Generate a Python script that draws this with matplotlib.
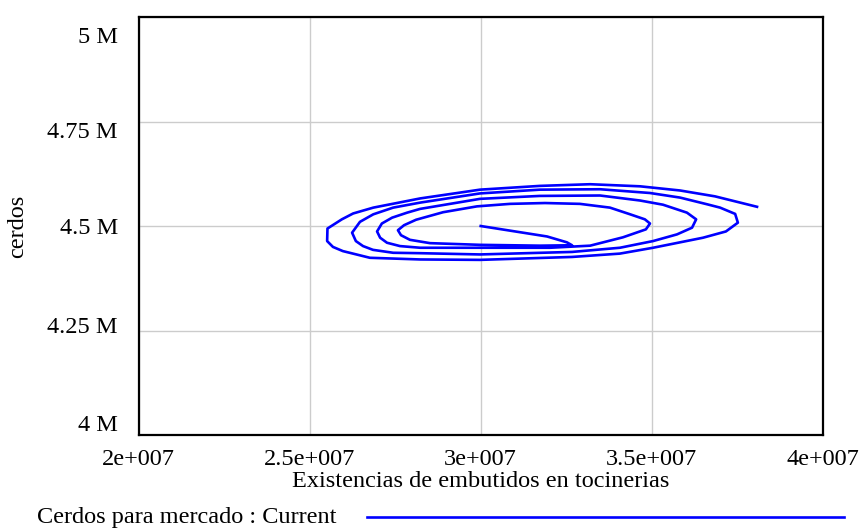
import numpy as np
import matplotlib
matplotlib.use("Agg")
import matplotlib.pyplot as plt
from matplotlib.lines import Line2D
from matplotlib.transforms import ScaledTranslation

plt.rcParams['font.family'] = ['Liberation Serif', 'DejaVu Serif']

# phase trajectory, values in millions
embutidos = [30.00, 31.94, 32.52, 32.67,
             31.73, 29.98, 28.52, 27.93, 27.67, 27.58,
             27.76, 28.11, 28.90, 29.89, 30.86, 31.88, 32.90, 33.78, 34.37, 34.80, 34.95,
             34.83, 34.16, 33.20, 32.03, 29.98, 28.23, 27.64, 27.26, 27.06, 26.97,
             27.11, 27.41, 27.85, 28.23, 29.98, 31.73, 33.49, 34.66, 35.33, 36.03, 36.30,
             36.18, 35.74, 35.04, 34.07, 32.67, 29.98, 28.23, 27.44, 26.85, 26.56, 26.35, 26.24,
             26.47, 26.86, 27.44, 28.23, 29.98, 31.73, 33.49, 34.95, 35.83, 36.62, 37.00, 37.44, 37.52,
             37.17, 36.50, 35.04, 34.07, 32.67, 29.98, 28.23, 26.76, 25.97, 25.68, 25.51, 25.52,
             25.94, 26.27, 26.86, 28.23, 29.98, 31.73, 33.20, 34.66, 35.83, 36.85, 38.08]
cerdos = [4.500, 4.475, 4.461, 4.454,
          4.453, 4.455, 4.459, 4.467, 4.478, 4.490,
          4.502, 4.515, 4.533, 4.547, 4.553, 4.555, 4.553, 4.544, 4.528, 4.516, 4.506,
          4.492, 4.473, 4.453, 4.448, 4.448, 4.448, 4.452, 4.460, 4.472, 4.487,
          4.506, 4.520, 4.532, 4.541, 4.565, 4.572, 4.573, 4.561, 4.551, 4.532, 4.516,
          4.496, 4.480, 4.464, 4.448, 4.438, 4.432, 4.435, 4.436, 4.443, 4.452, 4.464, 4.484,
          4.510, 4.528, 4.544, 4.556, 4.578, 4.587, 4.588, 4.579, 4.568, 4.552, 4.544, 4.529, 4.508,
          4.487, 4.472, 4.448, 4.434, 4.426, 4.419, 4.420, 4.424, 4.440, 4.450, 4.464, 4.494,
          4.516, 4.530, 4.544, 4.566, 4.587, 4.596, 4.600, 4.595, 4.585, 4.571, 4.546]

xticks = [2e7, 2.5e7, 3e7, 3.5e7, 4e7]
xtick_labels = ['2e+007', '2.5e+007', '3e+007', '3.5e+007', '4e+007']
yticks = [4.0e6, 4.25e6, 4.5e6, 4.75e6, 5.0e6]
ytick_labels = ['4 M', '4.25 M', '4.5 M', '4.75 M', '5 M']

fs = 17.5
blue = '#0000ff'

fig = plt.figure(figsize=(8.63, 5.32), dpi=100)
ax = fig.add_axes([0.1607, 0.1823, 0.7926, 0.7857])

ax.plot(np.array(embutidos) * 1e6, np.array(cerdos) * 1e6, color=blue, lw=1.9)

ax.set_xlim(2e7, 4e7)
ax.set_ylim(4e6, 5e6)
ax.set_xticks(xticks)
ax.set_xticklabels(xtick_labels)
ax.set_yticks(yticks)
ax.set_yticklabels(ytick_labels)
ax.tick_params(length=0, labelsize=fs)
ax.tick_params(axis='y', pad=15)
ax.tick_params(axis='x', pad=10)
ax.grid(True, color='#cccccc', lw=1)
ax.set_axisbelow(True)
for s in ax.spines.values():
    s.set_linewidth(1.6)

# y labels sit evenly spaced, pulled in from the ends (pixels, + is down)
y_shift = [-12.5, -5.7, 0, 8.3, 17.5]
for lab, d in zip(ax.get_yticklabels(), y_shift):
    lab.set_transform(lab.get_transform() +
                      ScaledTranslation(0, -d / 100, fig.dpi_scale_trans))

ax.set_xlabel('Existencias de embutidos en tocinerias', fontsize=fs, labelpad=1)
ax.set_ylabel('cerdos', fontsize=fs)
ax.yaxis.set_label_coords(-0.161, 0.5)

# legend row under the chart
fig.text(37 / 863, 1 - 517 / 532, 'Cerdos para mercado : Current', fontsize=fs,
         va='center', ha='left')
fig.add_artist(Line2D([367 / 863, 844 / 863], [1 - 517 / 532, 1 - 517 / 532],
                      color=blue, lw=1.9))

fig.savefig('out.png', dpi=100)
